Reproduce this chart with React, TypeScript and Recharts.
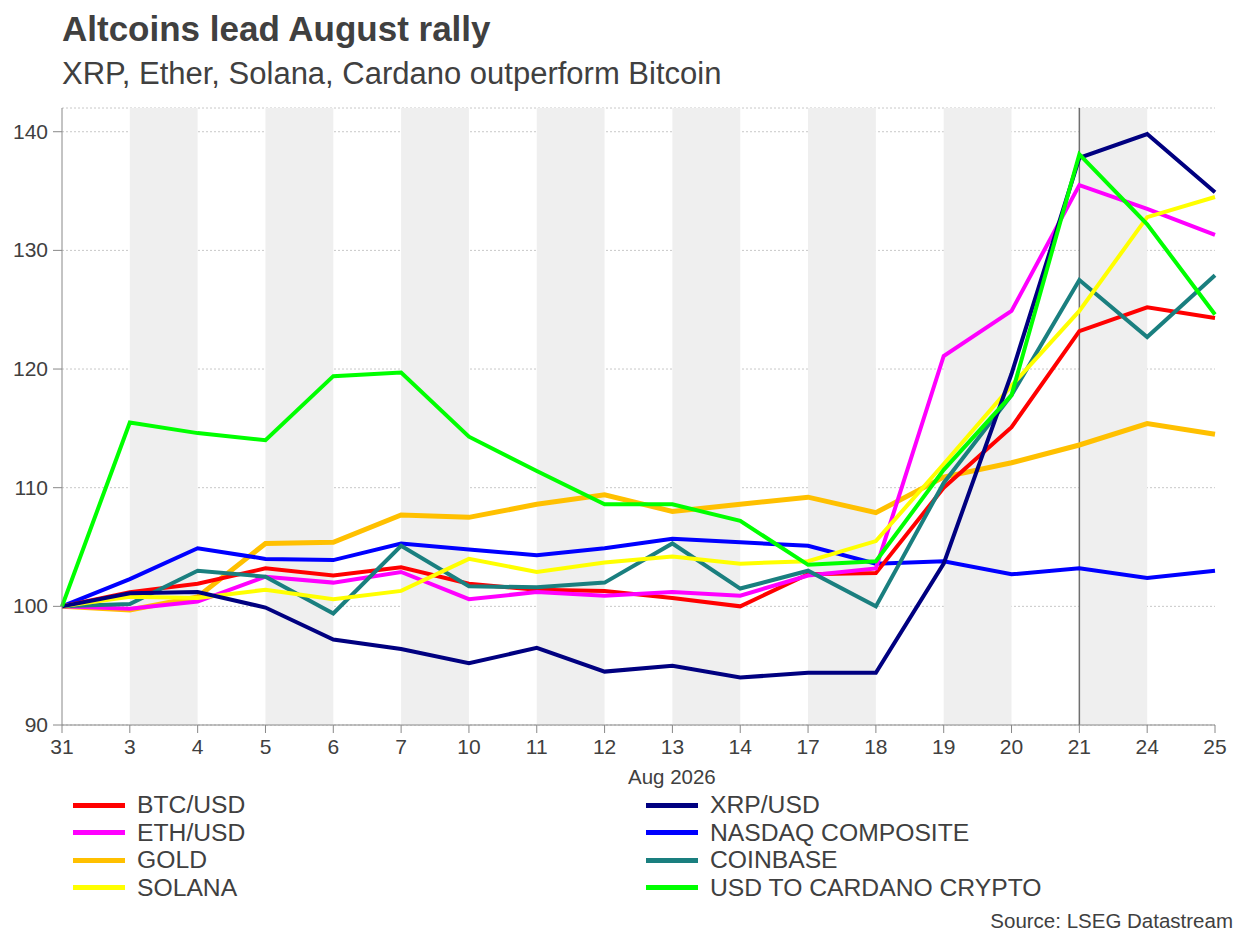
import React from 'react';
import {
  LineChart,
  Line,
  XAxis,
  YAxis,
  CartesianGrid,
  ReferenceArea,
  ReferenceLine,
} from 'recharts';

const days = ['31', '3', '4', '5', '6', '7', '10', '11', '12', '13', '14', '17', '18', '19', '20', '21', '24', '25'];

const btc = [100, 101.2, 101.9, 103.2, 102.6, 103.3, 101.9, 101.4, 101.3, 100.7, 100.0, 102.7, 102.8, 110.0, 115.1, 123.2, 125.2, 124.3];
const eth = [100, 99.8, 100.4, 102.5, 102.0, 102.9, 100.6, 101.2, 100.9, 101.2, 100.9, 102.6, 103.2, 121.1, 124.9, 135.5, 133.5, 131.3];
const gold = [100, 99.7, 100.8, 105.3, 105.4, 107.7, 107.5, 108.6, 109.4, 108.0, 108.6, 109.2, 107.9, 110.9, 112.1, 113.6, 115.4, 114.5];
const solana = [100, 100.8, 100.7, 101.4, 100.6, 101.3, 104.0, 102.9, 103.7, 104.2, 103.6, 103.8, 105.5, 112.0, 118.6, 124.9, 132.8, 134.5];
const xrp = [100, 101.1, 101.2, 99.9, 97.2, 96.4, 95.2, 96.5, 94.5, 95.0, 94.0, 94.4, 94.4, 103.6, 119.6, 137.8, 139.8, 134.9];
const nasdaq = [100, 102.3, 104.9, 104.0, 103.9, 105.3, 104.8, 104.3, 104.9, 105.7, 105.4, 105.1, 103.6, 103.8, 102.7, 103.2, 102.4, 103.0];
const coinbase = [100, 100.2, 103.0, 102.5, 99.4, 105.1, 101.7, 101.6, 102.0, 105.3, 101.5, 103.0, 100.0, 110.4, 117.8, 127.5, 122.7, 127.9];
const cardano = [100, 115.5, 114.6, 114.0, 119.4, 119.7, 114.3, 111.4, 108.6, 108.6, 107.2, 103.5, 103.8, 111.5, 117.8, 138.1, 132.2, 124.6];

const yTicks = [90, 100, 110, 120, 130, 140];
const shadedPairs: [string, string][] = [
  ['3', '4'], ['5', '6'], ['7', '10'], ['11', '12'], ['13', '14'], ['17', '18'], ['19', '20'], ['21', '24'],
];

const series = [
  { key: 'btc', name: 'BTC/USD', color: '#ff0000', values: btc },
  { key: 'eth', name: 'ETH/USD', color: '#ff00ff', values: eth },
  { key: 'gold', name: 'GOLD', color: '#ffc000', values: gold },
  { key: 'solana', name: 'SOLANA', color: '#ffff00', values: solana },
  { key: 'xrp', name: 'XRP/USD', color: '#000080', values: xrp },
  { key: 'nasdaq', name: 'NASDAQ COMPOSITE', color: '#0000ff', values: nasdaq },
  { key: 'coinbase', name: 'COINBASE', color: '#1a7f7f', values: coinbase },
  { key: 'cardano', name: 'USD TO CARDANO CRYPTO', color: '#00ff00', values: cardano },
];

const data = days.map((day, i) => {
  const row: { [k: string]: string | number } = { day };
  series.forEach((s) => {
    row[s.key] = s.values[i];
  });
  return row;
});

// draw order: back to front
const drawOrder = ['gold', 'nasdaq', 'btc', 'eth', 'coinbase', 'solana', 'xrp', 'cardano'];

const font = '"Liberation Sans", Arial, sans-serif';
const textColor = '#404040';

const XTick = (props: any) => {
  const { x, y, payload } = props;
  return (
    <text x={x} y={y + 19} textAnchor="middle" fill={textColor} fontSize={21} fontFamily={font}>
      {payload.value}
    </text>
  );
};

const YTick = (props: any) => {
  const { x, y, payload } = props;
  return (
    <text x={x - 1} y={y + 7} textAnchor="end" fill={textColor} fontSize={21} fontFamily={font}>
      {payload.value}
    </text>
  );
};

export default function App() {
  return (
    <div style={{ position: 'absolute', left: 0, top: 0, width: 1250, height: 938, background: '#fff', fontFamily: font }}>
      <div style={{ position: 'absolute', left: 62, top: 9, fontSize: 35, fontWeight: 'bold', color: textColor, whiteSpace: 'nowrap' }}>
        Altcoins lead August rally
      </div>
      <div style={{ position: 'absolute', left: 62, top: 56, fontSize: 31, color: textColor, whiteSpace: 'nowrap' }}>
        XRP, Ether, Solana, Cardano outperform Bitcoin
      </div>

      <div style={{ position: 'absolute', left: 0, top: 0 }}>
        <LineChart width={1250} height={760} data={data} margin={{ top: 108, right: 35, left: 0, bottom: 0 }}>
          {shadedPairs.map(([a, b]) => (
            <ReferenceArea key={a} x1={a} x2={b} fill="#efefef" fillOpacity={1} stroke="none" />
          ))}
          <CartesianGrid vertical={false} stroke="#c8c8c8" strokeDasharray="2 2" />
          <ReferenceLine x="21" stroke="#707070" strokeWidth={1.5} />
          <XAxis
            dataKey="day"
            height={35}
            stroke="#888"
            tickSize={8}
            tickMargin={2}
            interval={0}
            tick={<XTick />}
          />
          <YAxis
            domain={[90, 142]}
            ticks={yTicks}
            width={62}
            stroke="#888"
            tickSize={9}
            tickMargin={4}
            allowDataOverflow
            tick={<YTick />}
          />
          {drawOrder.map((k) => {
            const s = series.find((x) => x.key === k)!;
            return (
              <Line
                key={s.key}
                type="linear"
                dataKey={s.key}
                name={s.name}
                stroke={s.color}
                strokeWidth={k === 'gold' ? 5 : 4}
                dot={false}
                activeDot={false}
                isAnimationActive={false}
              />
            );
          })}
        </LineChart>
      </div>

      <div style={{ position: 'absolute', left: 628, top: 765, fontSize: 20.5, color: textColor, whiteSpace: 'nowrap' }}>Aug 2026</div>

      {series.map((s, i) => {
        const col = i < 4 ? 0 : 1;
        const row = i % 4;
        const left = col === 0 ? 73 : 646;
        const top = 792 + row * 27.5;
        return (
          <div key={s.key} style={{ position: 'absolute', left, top, display: 'flex', alignItems: 'center', height: 26 }}>
            <div style={{ width: 52, height: 5, background: s.color, marginRight: 12 }} />
            <div style={{ fontSize: 24.7, color: textColor, lineHeight: '26px', whiteSpace: 'nowrap' }}>{s.name}</div>
          </div>
        );
      })}

      <div style={{ position: 'absolute', right: 17, top: 909, fontSize: 20.5, color: textColor, whiteSpace: 'nowrap' }}>Source: LSEG Datastream</div>
    </div>
  );
}
